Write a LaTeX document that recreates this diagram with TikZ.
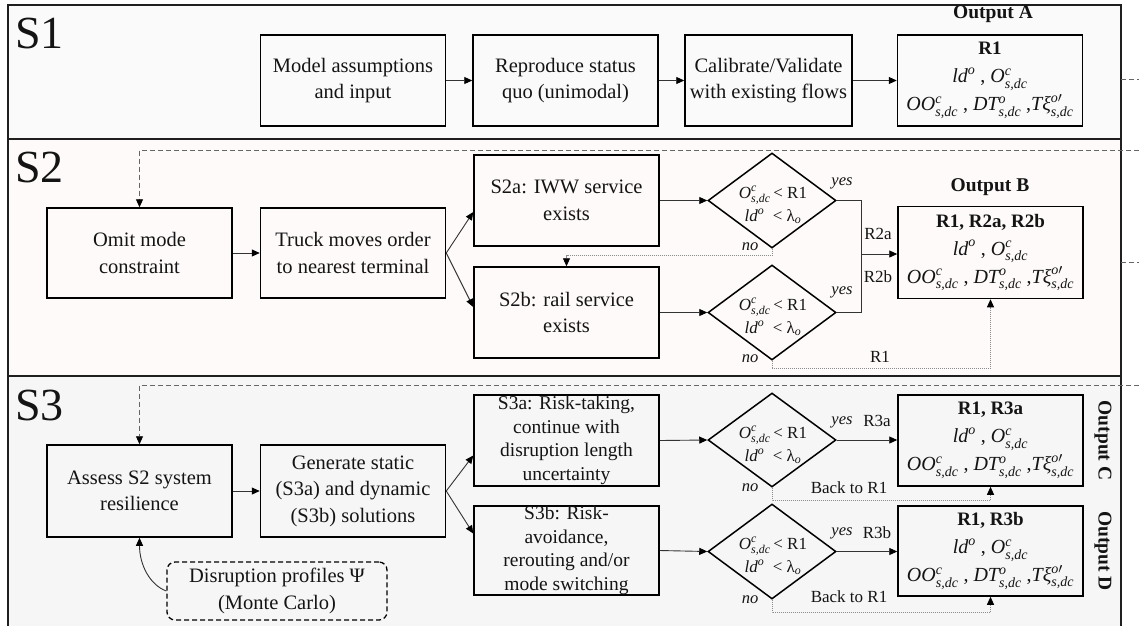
\documentclass[tikz,border=0pt]{standalone}
\usepackage{amsmath}
\usepackage{fontspec}
\setmainfont{Liberation Serif}
\usetikzlibrary{shapes.geometric,arrows.meta,calc}
\definecolor{bgA}{HTML}{FAFAFA}
\definecolor{bgB}{HTML}{FDFAF9}
\definecolor{bgC}{HTML}{F6F6F6}
\definecolor{ink}{HTML}{141414}
\newcommand\ldo{$\textit{ld}^{\textit{o}}$}
\newcommand\Osdc{$\textit{O}^{\textit{c}}_{\textit{s,dc}}$}
\newcommand\OOsdc{$\textit{OO}^{\textit{c}}_{\textit{s,dc}}$}
\newcommand\DTsdc{$\textit{DT}^{\textit{o}}_{\textit{s,dc}}$}
\newcommand\Txisdc{$\textit{Tξ}^{\textit{o}\prime}_{\textit{s,dc}}$}
\newcommand\lamo{$\text{λ}_{\textit{o}}$}
\newcommand\otitle[1]{{\bfseries\fontsize{19}{22}\selectfont #1}}
\begin{document}
\begin{tikzpicture}[x=1pt,y=-1pt,
  panel/.style={draw=black!88, line width=2pt},
  sect/.style={font=\fontsize{46}{46}\selectfont, inner sep=0pt, anchor=base west, text=ink},
  box/.style={draw=black, line width=1.5pt, align=center, inner sep=1pt,
    minimum width=185pt, minimum height=91pt, text=ink,
    font=\fontsize{20.5}{26.5}\selectfont},
  obox/.style={box, font=\fontsize{20}{28}\selectfont},
  dia/.style={diamond, draw=black, line width=1.5pt, inner sep=0pt,
    minimum width=128pt, minimum height=95pt},
  dtext/.style={align=center, inner sep=0pt, text=ink, font=\fontsize{17}{23}\selectfont},
  ttl/.style={font=\bfseries\fontsize{19.5}{22}\selectfont, inner sep=0pt, text=ink},
  lab/.style={font=\fontsize{17}{20}\selectfont, inner sep=0pt, text=ink},
  yn/.style={font=\itshape\fontsize{16.5}{18}\selectfont, inner sep=0pt, text=ink},
  conn/.style={draw=black!80, line width=0.9pt},
  arr/.style={-{Triangle[length=8pt,width=7pt,color=black]}},
  fbk/.style={draw=black!60, line width=0.9pt, dash pattern=on 5pt off 3pt},
  nop/.style={draw=black!45, line width=0.9pt, dash pattern=on 1pt off 1pt}
]
\useasboundingbox (0,0) rectangle (1139,625);
\clip (0,0) rectangle (1139,625);
\fill[white] (0,0) rectangle (1139,625);

% panels
\draw[panel, fill=bgA] (8,5) rectangle (1121,139);
\draw[panel, fill=bgB] (8,139) rectangle (1121,376);
\draw[panel, fill=bgC] (8,376) rectangle (1121,650);
\node[sect] (S1) at (15,48) {S1};
\node[sect] (S2) at (15,182) {S2};
\node[sect] (S3) at (15,420) {S3};

% ---------------- S1
\node[box] (mod) at (353,80.5) {Model assumptions\\and input};
\node[box] (rep) at (565.5,80.5) {Reproduce status\\quo (unimodal)};
\node[box, minimum width=167pt] (cal) at (768.5,80.5) {Calibrate/Validate\\with existing flows};
\node[obox] (ra) at (990,80.5) {\otitle{R1}\\ \ldo\ , \Osdc\\ \OOsdc\ , \DTsdc\ ,\Txisdc};
\node[ttl] (oa) at (993,14) {Output A};
\draw[conn,arr] (mod) -- (rep);
\draw[conn,arr] (rep) -- (cal);
\draw[conn,arr] (cal) -- (ra);
\coordinate (st1a) at (1121,79);
\coordinate (st1b) at (1139,79);
\draw[fbk] (st1a) -- (st1b);

% ---------------- S2
\node[box, minimum height=90pt] (om) at (139.5,253) {Omit mode\\constraint};
\node[box, minimum height=90pt] (tr) at (353,253) {Truck moves order\\to nearest terminal};
\node[box] (s2a) at (566.5,200.5) {S2a: IWW service\\exists};
\node[box] (s2b) at (566.5,312.5) {S2b: rail service\\exists};
\node[dia] (d1) at (772,200.5) {};
\node[dia] (d2) at (772,312.5) {};
\node[dtext] (d1t) at (773,205) {\Osdc\,< R1\\ \ldo\enspace< \lamo};
\node[dtext] (d2t) at (773,317) {\Osdc\,< R1\\ \ldo\enspace< \lamo};
\node[obox, minimum height=92pt] (rb) at (990.5,252.5) {\otitle{R1, R2a, R2b}\\ \ldo\ , \Osdc\\ \OOsdc\ , \DTsdc\ ,\Txisdc};
\node[ttl] (ob) at (990,187) {Output B};

\coordinate (fb2) at (1139,150);
\draw[fbk,arr] (fb2) -| (om.north);
\coordinate (st2a) at (1121,262);
\coordinate (st2b) at (1139,262);
\draw[fbk] (st2a) -- (st2b);

\draw[conn,arr] (om) -- (tr);
\draw[conn,arr] (tr.east) -- ($(s2a.west)+(0,11.5)$);
\draw[conn,arr] (tr.east) -- ($(s2b.west)+(0,-5.5)$);
\draw[conn,arr] (s2a.east) -- (d1.west);
\draw[conn,arr] (s2b.east) -- (d2.west);
\coordinate (jm) at (861,254);
\draw[conn] (d1.east) -| (jm);
\draw[conn] (d2.east) -| (jm);
\draw[conn,arr] (jm) -- (jm -| rb.west);
\node[yn] (y1) at (842,183) {yes};
\node[yn] (y2) at (842,292) {yes};
\node[lab] (l2a) at (878,234) {R2a};
\node[lab] (l2b) at (878,277) {R2b};
\node[yn] (n1) at (750,247) {no};
\node[yn] (n2) at (750,359) {no};
\draw[nop,arr] (d1.south) -- ++(0,7) -| (s2b.north);
\draw[nop,arr] (d2.south) -- ++(0,8) -| (rb.south);
\node[lab] (l2r) at (880,357) {R1};

% ---------------- S3
\node[box, minimum height=92pt] (as) at (139.5,491) {Assess S2 system\\resilience};
\node[box, minimum height=92pt] (ge) at (353,491) {Generate static\\(S3a) and dynamic\\(S3b) solutions};
\node[box, font=\fontsize{19.5}{23.5}\selectfont, inner sep=0pt] (s3a) at (566.5,440.5) {S3a: Risk-taking,\\continue with\\disruption length\\uncertainty};
\node[box, font=\fontsize{19.5}{23.5}\selectfont, inner sep=0pt, minimum height=89pt] (s3b) at (566.5,550.5) {S3b: Risk-\\avoidance,\\rerouting and/or\\mode switching};
\node[dia, minimum height=94pt] (d3) at (772,440) {};
\node[dia] (d4) at (772,551.5) {};
\node[dtext] (d3t) at (773,445) {\Osdc\,< R1\\ \ldo\enspace< \lamo};
\node[dtext] (d4t) at (773,556) {\Osdc\,< R1\\ \ldo\enspace< \lamo};
\node[obox] (rc) at (990.5,440.5) {\otitle{R1, R3a}\\ \ldo\ , \Osdc\\ \OOsdc\ , \DTsdc\ ,\Txisdc};
\node[obox, minimum height=90pt] (rd) at (990.5,551) {\otitle{R1, R3b}\\ \ldo\ , \Osdc\\ \OOsdc\ , \DTsdc\ ,\Txisdc};
\node[ttl, rotate=-90] (oc) at (1103,440.5) {Output C};
\node[ttl, rotate=-90] (od) at (1103,551) {Output D};
\node[box, dashed, dash pattern=on 5pt off 3pt, rounded corners=8pt, line width=1.3pt,
  minimum width=220pt, minimum height=58pt] (dp) at (277,591) {Disruption profiles Ψ\\(Monte Carlo)};

\coordinate (fb3) at (1139,385);
\draw[fbk,arr] (fb3) -| (as.north);
\draw[conn,arr] (as) -- (ge);
\draw[conn,arr] (ge.east) -- ($(s3a.west)+(0,15)$);
\draw[conn,arr] (ge.east) -- ($(s3b.west)+(0,-17)$);
\draw[conn,arr] (s3a.east) -- (d3.west);
\draw[conn,arr] (s3b.east) -- (d4.west);
\draw[conn,arr] (d3.east) -- (d3.east -| rc.west);
\draw[conn,arr] (d4.east) -- (d4.east -| rd.west);
\node[yn] (y3) at (842,422) {yes};
\node[yn] (y4) at (842,533) {yes};
\node[lab] (l3a) at (877,421) {R3a};
\node[lab] (l3b) at (877,533) {R3b};
\node[yn] (n3) at (750,488) {no};
\node[yn] (n4) at (750,600) {no};
\draw[nop,arr] (d3.south) -- ++(0,13) -| (rc.south);
\draw[nop,arr] (d4.south) -- ++(0,13) -| (rd.south);
\node[lab] (b3) at (849,488) {Back to R1};
\node[lab] (b4) at (849,597) {Back to R1};
\draw[conn,arr] (dp.west) .. controls (150,585) and (139.5,565) .. (as.south);
\end{tikzpicture}
\end{document}
